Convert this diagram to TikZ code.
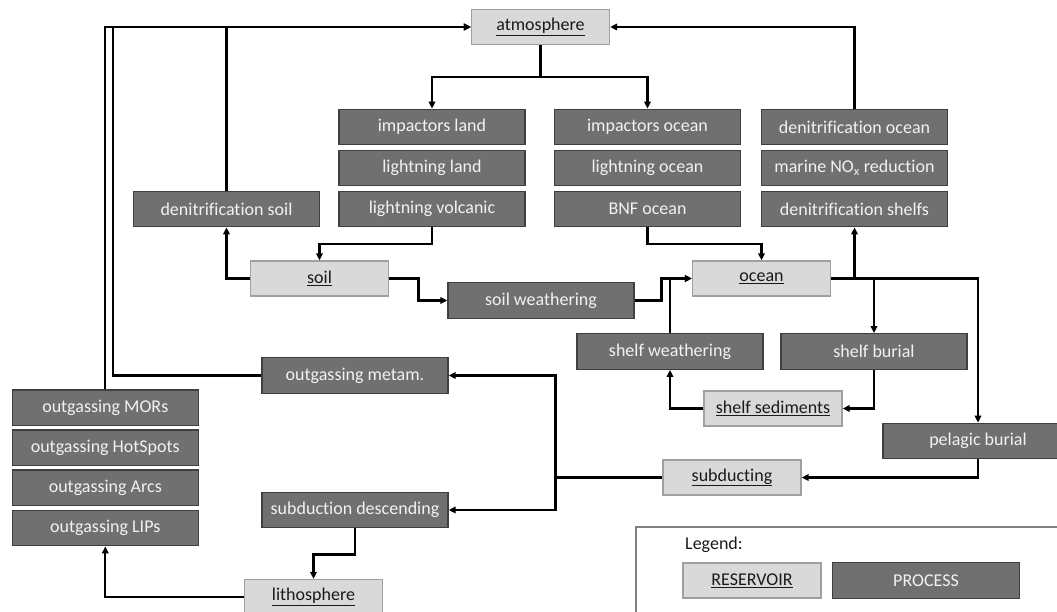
\documentclass[tikz,border=0pt]{standalone}
\usepackage{fontspec}
\setmainfont{Carlito}[Ligatures=NoCommon]
\usetikzlibrary{arrows.meta}
\definecolor{procfill}{HTML}{707070}
\definecolor{procdraw}{HTML}{3F3F3F}
\definecolor{resfill}{HTML}{D9D9D9}
\definecolor{resdraw}{HTML}{A0A0A0}
\definecolor{proctext}{HTML}{F2F2F2}
\definecolor{restext}{HTML}{1A1A1A}
\definecolor{legdraw}{HTML}{808080}
\begin{document}
\begin{tikzpicture}[x=1pt,y=-1pt,
  proc/.style={rectangle,fill=procfill,draw=procdraw,line width=1.3pt,text=proctext,
    minimum width=186pt,minimum height=35.5pt,inner sep=0pt,font=\fontsize{18}{21}\selectfont},
  res/.style={rectangle,fill=resfill,draw=resdraw,line width=1.3pt,text=restext,
    minimum width=138pt,minimum height=35pt,inner sep=0pt,font=\fontsize{18}{21}\selectfont},
  conn/.style={draw=black,line width=2.2pt},
  arr/.style={conn,-{Triangle[length=7pt,width=6.5pt]}}]
\useasboundingbox (0,0) rectangle (1057,612);
\clip (0,0) rectangle (1057,612);
% reservoirs
\node[res] (atm) at (540.5,27) {\underline{atmosphere}};
\node[res] (soil) at (319.5,278.5) {\underline{soil}};
\node[res] (ocean) at (761.5,278.5) {\underline{ocean}};
\node[res] (ss) at (773,408.5) {\underline{shelf sediments}};
\node[res] (sub) at (732,477.5) {\underline{subducting}};
\node[res] (lith) at (313.5,597) {\underline{lithosphere}};
% processes
\node[proc] (il) at (432,127) {impactors land};
\node[proc] (ll) at (432,168) {lightning land};
\node[proc] (lv) at (432,209) {lightning volcanic};
\node[proc] (io) at (647.5,127) {impactors ocean};
\node[proc] (lo) at (647.5,168) {lightning ocean};
\node[proc] (bnf) at (647.5,209) {BNF ocean};
\node[proc] (do) at (854.5,127) {denitrification ocean};
\node[proc] (mn) at (854.5,168) {marine NO\textsubscript{x} reduction};
\node[proc] (dsh) at (854.5,209) {denitrification shelfs};
\node[proc] (ds) at (226.5,209) {denitrification soil};
\node[proc] (sw) at (541,300.5) {soil weathering};
\node[proc] (shw) at (670,351.5) {shelf weathering};
\node[proc] (sb) at (874,351.5) {shelf burial};
\node[proc,minimum width=190pt] (pb) at (978,441) {pelagic burial};
\node[proc] (om) at (355,375.5) {outgassing metam.};
\node[proc] (sd) at (355,510) {subduction descending};
\node[proc] (mor) at (105.3,407.7) {outgassing MORs};
\node[proc] (hs) at (105.3,447.8) {outgassing HotSpots};
\node[proc] (arcs) at (105.3,487.8) {outgassing Arcs};
\node[proc] (lips) at (105.3,528) {outgassing LIPs};
% connectors
\coordinate (j1) at (540.5,77);
\draw[conn] (atm.south) -- (j1);
\draw[arr] (j1) -| (il.north);
\draw[arr] (j1) -| (io.north);
\draw[arr] (do.north) |- (atm.east);
\draw[arr] (ds.north) |- (atm.west);
\draw[arr] (mor.north) |- (atm.west);
\coordinate (c1) at (113.3,27);
\draw[arr] (om.west) -| (c1) -- (atm.west);
\draw[arr] (lv.south) -- ++(0,17) -| (soil.north);
\draw[arr] (bnf.south) -- ++(0,17) -| (ocean.north);
\draw[arr] (soil.west) -| (ds.south);
\coordinate (c2) at (418.5,278.5);
\draw[arr] (soil.east) -- (c2) |- (sw.west);
\coordinate (c3) at (661.5,300.5);
\draw[arr] (sw.east) -- (c3) |- (ocean.west);
\draw[arr] (shw.north) |- (ocean.west);
\draw[arr] (ocean.east) -| (dsh.south);
\draw[arr] (ocean.east) -| (sb.north);
\draw[arr] (ocean.east) -| (pb.north);
\draw[arr] (sb.south) |- (ss.east);
\draw[arr] (ss.west) -| (shw.south);
\draw[arr] (pb.south) |- (sub.east);
\coordinate (j2) at (555.5,477.5);
\draw[conn] (sub.west) -- (j2);
\draw[arr] (j2) |- (om.east);
\draw[arr] (j2) |- (sd.east);
\draw[arr] (sd.south) -- ++(0,26) -| (lith.north);
\draw[arr] (lith.west) -| (lips.south);
% legend
\draw[draw=legdraw,line width=1.3pt] (636,527) rectangle (1080,640);
\node[anchor=west,text=restext,font=\fontsize{18}{21}\selectfont,inner sep=0pt] (leg) at (685,545) {Legend:};
\node[res] (lres) at (752,580.5) {\underline{RESERVOIR}};
\node[proc,minimum width=187pt] (lproc) at (926,580.5) {PROCESS};
\end{tikzpicture}
\end{document}
